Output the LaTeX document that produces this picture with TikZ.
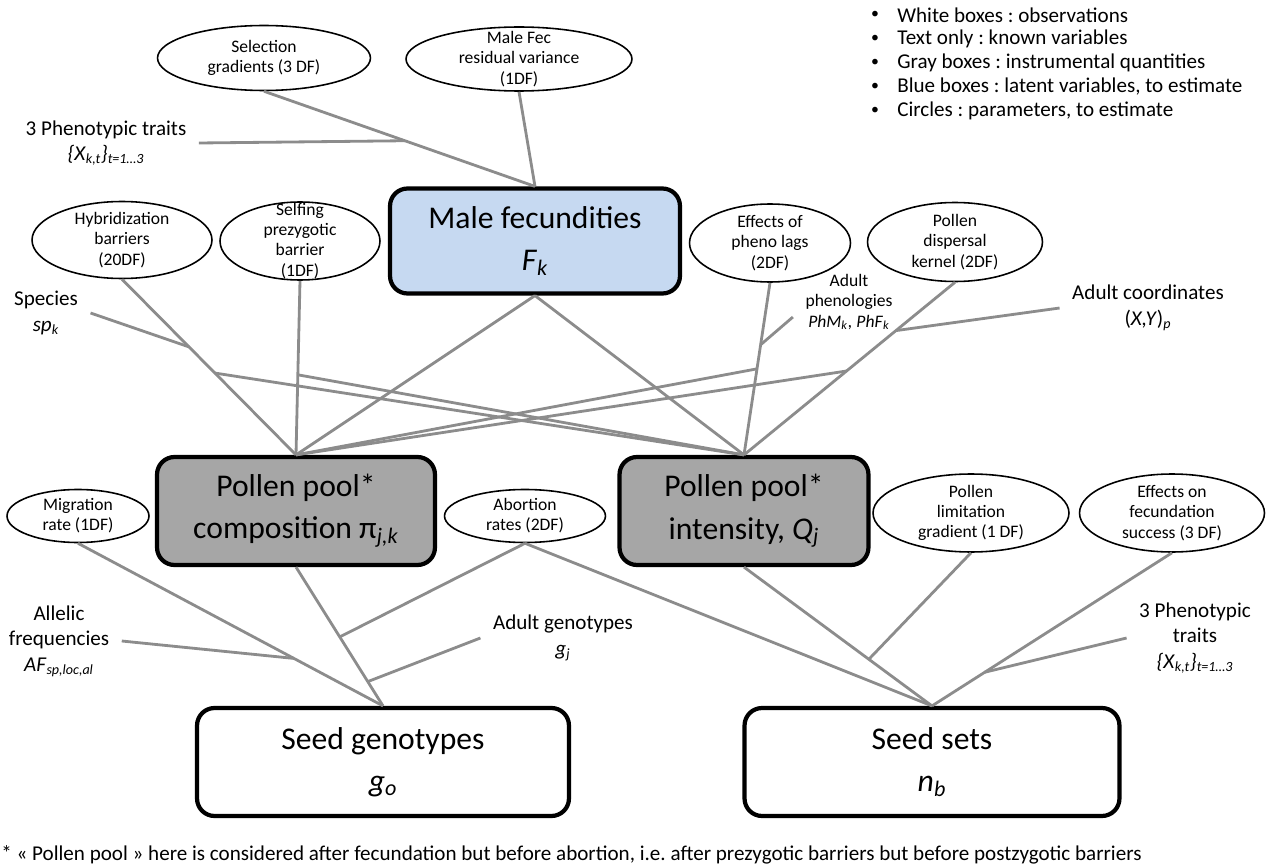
\documentclass[tikz,border=0pt]{standalone}
\usepackage{fontspec}
\setmainfont{Carlito}
\usepackage{xcolor}
\usepackage{tikz}
\usetikzlibrary{positioning,shapes.geometric,calc}
\definecolor{latentblue}{RGB}{198,217,241}
\definecolor{instrgray}{RGB}{166,166,166}
\definecolor{linkgray}{RGB}{140,140,140}
\newcommand{\vsub}[2]{\textit{#1}\textsubscript{\textit{#2}}}
\frenchspacing

\begin{document}
\begin{tikzpicture}[x=0.02cm,y=-0.02cm,
        box/.style={rectangle,rounded corners=0.35cm,draw=black,line width=2.4pt,
                    align=center,font=\fontsize{18}{24}\selectfont},
        obs/.style={box,fill=white,minimum height=2.16cm},
        lat/.style={box,fill=latentblue},
        ins/.style={box,fill=instrgray,minimum height=2.16cm},
        param/.style={ellipse,draw=black,line width=0.9pt,fill=white,inner sep=0pt},
        ptxt/.style={align=center,font=\fontsize{10}{11.5}\selectfont,inner sep=0pt},
        known/.style={align=center,font=\fontsize{12}{14.5}\selectfont,inner xsep=7pt},
        link/.style={draw=linkgray,line width=1.6pt}]
        \useasboundingbox (0,0) rectangle (1269,865);
        \foreach \y/\txt [count=\i] in {15/White boxes : observations,
            39/Text only : known variables, 63/Gray boxes : instrumental quantities,
            87/{Blue boxes : latent variables, to estimate},
            111/{Circles : parameters, to estimate}}{
          \node[font=\fontsize{9}{11}\selectfont] (bul\i) at (875,\y) {•};
          \node[font=\fontsize{12}{14}\selectfont,anchor=west,inner sep=0pt]
            (leg\i) at (897,\y) {\txt};
        }
        \foreach \name/\x/\y/\w/\h/\txt in {
            sel/264/58/4.26/1.3/{Selection\\gradients (3 DF)},
            mfv/519/59/4.52/1.28/{Male Fec\\residual variance\\(1DF)},
            hyb/122/240/3.6/1.54/{Hybridization\\barriers\\(20DF)},
            self/300/241/3.2/1.56/{Selfing\\prezygotic\\barrier\\(1DF)},
            eff/770/243/3.22/1.56/{Effects of\\pheno lags\\(2DF)},
            disp/955/242/3.5/1.58/{Pollen\\dispersal\\kernel (2DF)},
            mig/78/516/2.84/1.06/{Migration\\rate (1DF)},
            abort/525/516/3.22/1.06/{Abortion\\rates (2DF)},
            plim/971/513/3.92/1.56/{Pollen\\limitation\\gradient (1 DF)},
            feff/1172/513/3.7/1.56/{Effects on\\fecundation\\success (3 DF)}}{
          \node[param,minimum width=\w cm,minimum height=\h cm] (\name) at (\x,\y) {};
          \node[ptxt] (\name-t) at (\name) {\txt};
        }
        \node[lat,minimum width=5.8cm,minimum height=2.1cm] (mf) at (535,241)
          {Male fecundities\\\vsub{F}{k}};
        \node[ins,minimum width=5.56cm] (comp) at (296,511)
          {Pollen pool*\\composition π\textsubscript{\textit{j,k}}};
        \node[ins,minimum width=4.98cm] (int) at (744,511)
          {Pollen pool*\\intensity, \vsub{Q}{j}};
        \node[obs,minimum width=7.44cm] (sg) at (383,762)
          {Seed genotypes\\\vsub{g}{o}};
        \node[obs,minimum width=7.5cm] (ss) at (932,762)
          {Seed sets\\\vsub{n}{b}};
        \node[known] (trA) at (106,143) {3 Phenotypic traits\\
          \textit{\{X}\textsubscript{\textit{k,t}}\textit{\}}\textsubscript{\textit{t=1…3}}};
        \node[known] (spc) at (46,313) {Species\\\vsub{sp}{k}};
        \node[known,font=\fontsize{10}{11.6}\selectfont] (phen) at (849,302)
          {Adult\\phenologies\\\vsub{PhM}{k}\textit{,} \vsub{PhF}{k}};
        \node[known] (crd) at (1148,308)
          {Adult coordinates\\(\textit{X,Y})\textsubscript{\textit{p}}};
        \node[known] (allf) at (59,641) {Allelic\\frequencies\\\vsub{AF}{sp,loc,al}};
        \node[known] (adg) at (563,638) {Adult genotypes\\\vsub{g}{j}};
        \node[known] (trB) at (1195,638) {3 Phenotypic\\traits\\
          \textit{\{X}\textsubscript{\textit{k,t}}\textit{\}}\textsubscript{\textit{t=1…3}}};
        \coordinate (jTa) at ($(sel.south)!0.52!(mf.north)$);
        \coordinate (jSp) at ($(hyb.south)!0.385!(comp.north)$);
        \coordinate (jHy) at ($(hyb.south)!0.534!(comp.north)$);
        \coordinate (jSf) at ($(self.south)!0.54!(comp.north)$);
        \coordinate (jPh) at ($(eff.south)!0.36!(int.north)$);
        \coordinate (jEf) at ($(eff.south)!0.5!(int.north)$);
        \coordinate (jCo) at ($(disp.south)!0.28!(int.north)$);
        \coordinate (jDi) at ($(disp.south)!0.514!(int.north)$);
        \coordinate (jAb) at ($(comp.south)!0.503!(sg.north)$);
        \coordinate (jAf) at ($(mig.south)!0.708!(sg.north)$);
        \coordinate (jGe) at ($(comp.south)!0.825!(sg.north)$);
        \coordinate (jPl) at ($(int.south)!0.664!(ss.north)$);
        \coordinate (jTb) at ($(feff.south)!0.78!(ss.north)$);
        \foreach \a/\b in {sel.south/mf.north, mfv.south/mf.north, trA.east/jTa,
            hyb.south/comp.north, spc.east/jSp, self.south/comp.north,
            mf.south/comp.north, jEf/comp.north, jDi/comp.north,
            jHy/int.north, jSf/int.north, mf.south/int.north, eff.south/int.north,
            phen.195/jPh, disp.south/int.north, crd.west/jCo,
            mig.south/sg.north, comp.south/sg.north, abort.south/jAb,
            allf.east/jAf, adg.west/jGe,
            abort.south/ss.north, int.south/ss.north, plim.south/jPl,
            feff.south/ss.north, trB.west/jTb}
          \draw[link] (\a) -- (\b);
        \node[anchor=west,inner sep=0pt,font=\fontsize{12}{14}\selectfont] (note)
          at (1,855) {* « Pollen pool » here is considered after fecundation but
          before abortion, i.e. after prezygotic barriers but before postzygotic barriers};
      \end{tikzpicture}
\end{document}
